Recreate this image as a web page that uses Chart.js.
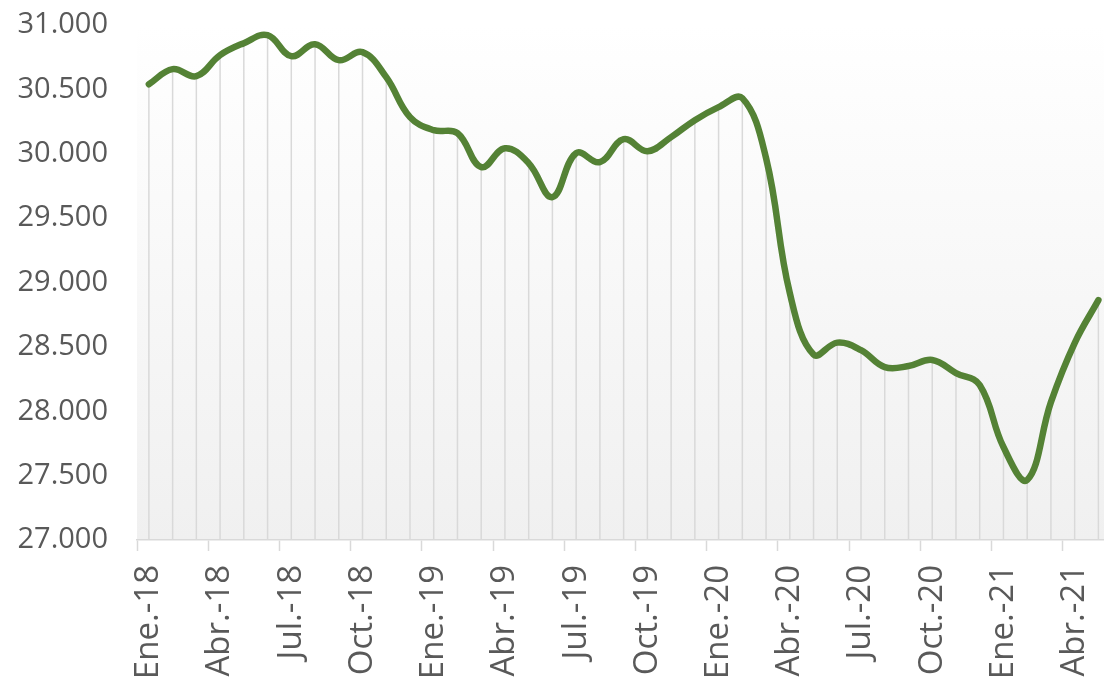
<!DOCTYPE html>
<html>
<head>
<meta charset="utf-8">
<script src="https://cdn.jsdelivr.net/npm/chart.js@4"></script>
<style>
  html, body { margin: 0; padding: 0; background: #ffffff; overflow: hidden; }
  #chartBox { width: 1104px; height: 683px; overflow: hidden; }
</style>
</head>
<body>
<div id="chartBox">
  <canvas id="salesChart" width="1152" height="683"></canvas>
</div>
<script>
// Monthly categories (Ene.-18 .. May.-21)
const months = [
  "Ene.-18", "Feb.-18", "Mar.-18", "Abr.-18", "May.-18", "Jun.-18",
  "Jul.-18", "Ago.-18", "Sep.-18", "Oct.-18", "Nov.-18", "Dic.-18",
  "Ene.-19", "Feb.-19", "Mar.-19", "Abr.-19", "May.-19", "Jun.-19",
  "Jul.-19", "Ago.-19", "Sep.-19", "Oct.-19", "Nov.-19", "Dic.-19",
  "Ene.-20", "Feb.-20", "Mar.-20", "Abr.-20", "May.-20", "Jun.-20",
  "Jul.-20", "Ago.-20", "Sep.-20", "Oct.-20", "Nov.-20", "Dic.-20",
  "Ene.-21", "Feb.-21", "Mar.-21", "Abr.-21", "May.-21"
];

// Values
const values = [
  30540, 30657, 30603, 30766, 30859, 30921,
  30758, 30851, 30727, 30789, 30595, 30284,
  30183, 30160, 29896, 30043, 29927, 29663,
  30005, 29935, 30113, 30020, 30129, 30261,
  30362, 30432, 29966, 28918, 28440, 28533,
  28475, 28343, 28351, 28398, 28297, 28203,
  27722, 27466, 28071, 28530, 28863
];

// Y axis range and step
const yMin = 27000;
const yMax = 31000;
const yStep = 500;

const textColor = "#595959";
const lineColor = "#548235";
const dropColor = "#d9d9d9";

// Plot area gradient (white at top, light gray at bottom)
const plotBackground = {
  id: "plotBackground",
  beforeDraw(chart) {
    const { ctx, chartArea } = chart;
    const grad = ctx.createLinearGradient(0, chartArea.top, 0, chartArea.bottom);
    grad.addColorStop(0, "#ffffff");
    grad.addColorStop(1, "#f0f0f0");
    ctx.save();
    ctx.fillStyle = grad;
    ctx.fillRect(chartArea.left, chartArea.top, chartArea.right - chartArea.left, chartArea.bottom - chartArea.top);
    ctx.restore();
  }
};

// Drop lines from each point down to the x axis
const dropLines = {
  id: "dropLines",
  beforeDatasetsDraw(chart) {
    const { ctx, chartArea } = chart;
    const meta = chart.getDatasetMeta(0);
    ctx.save();
    ctx.strokeStyle = dropColor;
    ctx.lineWidth = 1.5;
    meta.data.forEach(function (pt) {
      ctx.beginPath();
      ctx.moveTo(pt.x, pt.y);
      ctx.lineTo(pt.x, chartArea.bottom);
      ctx.stroke();
    });
    ctx.restore();
  }
};

const ctx = document.getElementById("salesChart").getContext("2d");

new Chart(ctx, {
  type: "line",
  data: {
    labels: months,
    datasets: [{
      data: values,
      borderColor: lineColor,
      borderWidth: 6.5,
      borderCapStyle: "round",
      borderJoinStyle: "round",
      pointRadius: 0,
      tension: 0.4,
      fill: false
    }]
  },
  options: {
    responsive: false,
    devicePixelRatio: 1,
    animation: false,
    layout: {
      padding: { left: 16, right: 0, top: 25, bottom: 0 }
    },
    plugins: {
      legend: { display: false },
      tooltip: { enabled: false }
    },
    scales: {
      x: {
        offset: true,
        grid: {
          offset: true,
          drawOnChartArea: false,
          tickLength: 11,
          tickWidth: 1.5,
          tickColor: function (c) {
            return c.index % 3 === 0 ? dropColor : "rgba(0,0,0,0)";
          }
        },
        border: { display: true, color: dropColor, width: 1.5 },
        ticks: {
          autoSkip: false,
          maxRotation: 90,
          minRotation: 90,
          padding: 14,
          color: textColor,
          font: { family: "'Open Sans'", size: 33 },
          callback: function (val, i) {
            return i % 3 === 0 ? months[i] : "";
          }
        },
        afterFit: function (s) { s.height = 143; }
      },
      y: {
        min: yMin,
        max: yMax,
        grid: { display: false },
        border: { display: false },
        ticks: {
          stepSize: yStep,
          padding: 21,
          color: textColor,
          font: { family: "'Open Sans'", size: 29 },
          callback: function (v) {
            return Math.floor(v / 1000) + "." + String(v % 1000).padStart(3, "0");
          }
        },
        afterFit: function (s) {
          s.width = 121;
          s.paddingTop = 0;
          s.paddingBottom = 0;
        }
      }
    }
  },
  plugins: [plotBackground, dropLines]
});
</script>
</body>
</html>
